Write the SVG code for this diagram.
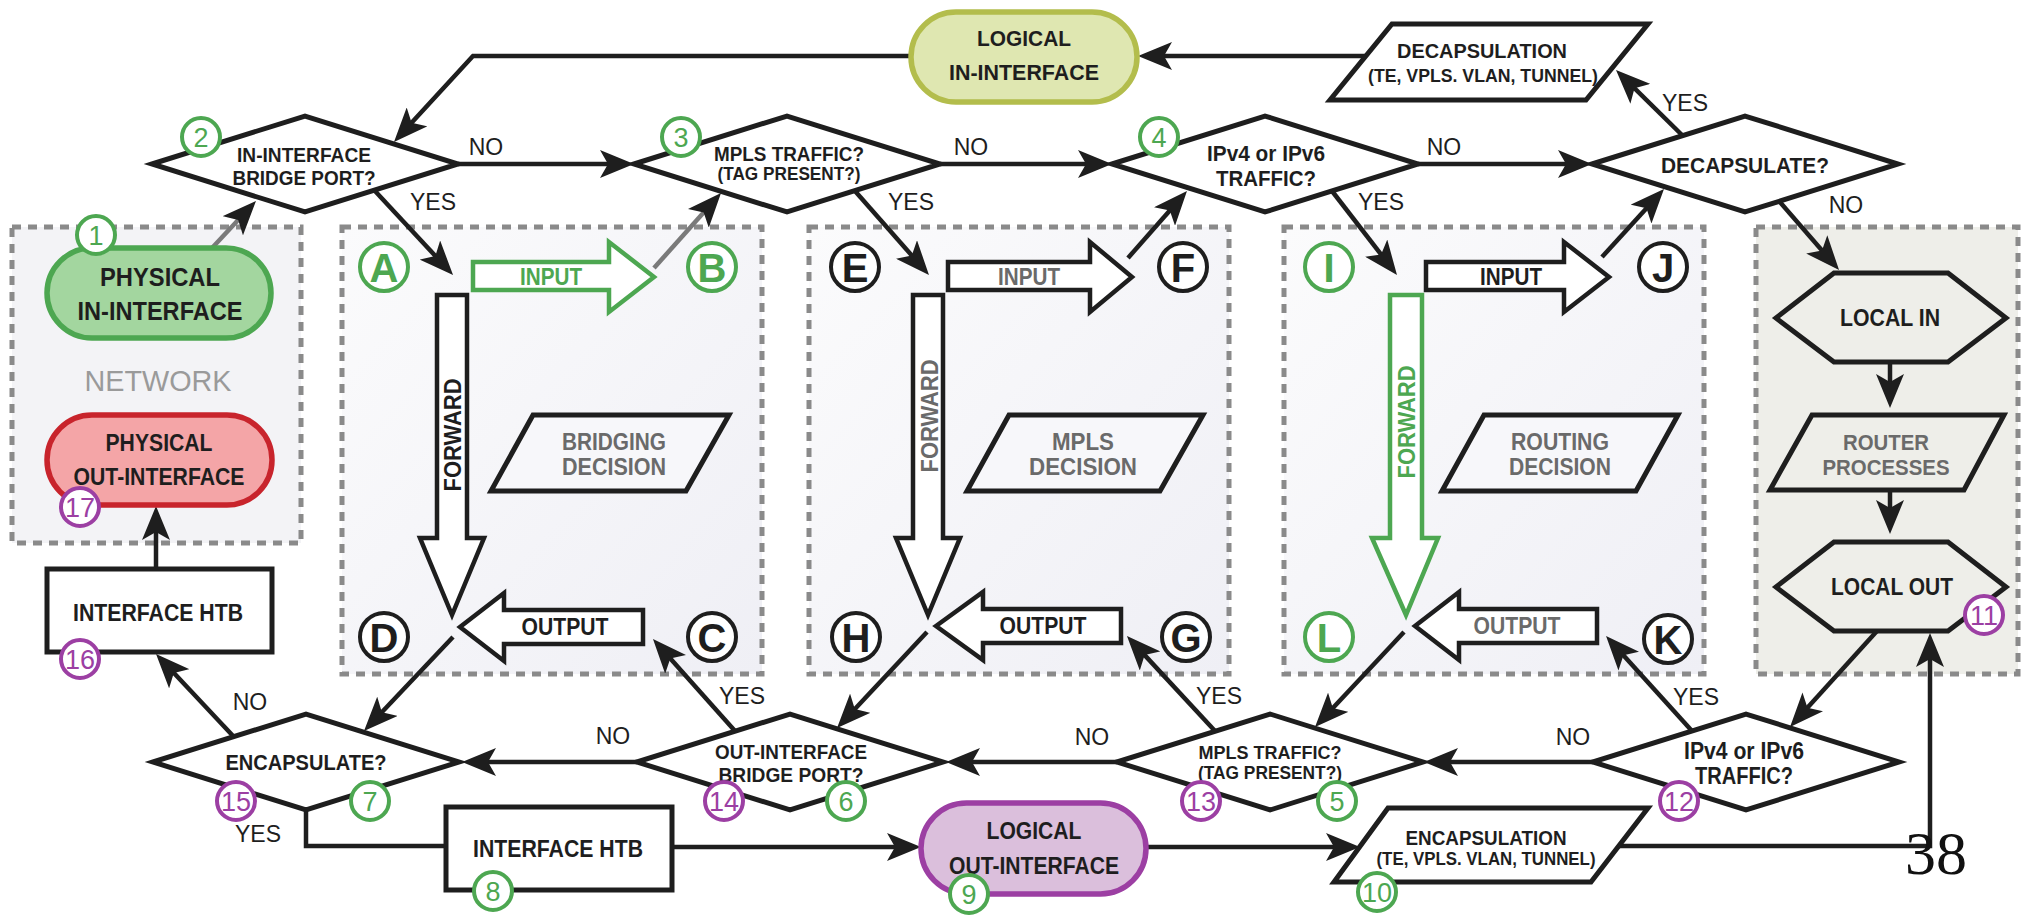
<svg xmlns="http://www.w3.org/2000/svg" width="2029" height="919" viewBox="0 0 2029 919">
<defs>
<marker id="ah" viewBox="0 0 34 28" refX="26" refY="14" markerWidth="34" markerHeight="28" markerUnits="userSpaceOnUse" orient="auto"><path d="M0,0 L34,14 L0,28 L8,14 Z" fill="#1e1e1e"/></marker>
<linearGradient id="bg" x1="0" y1="0" x2="1" y2="1"><stop offset="0" stop-color="#fbfbfc"/><stop offset="1" stop-color="#efeff5"/></linearGradient>
</defs>
<style>
text{font-family:"Liberation Sans",Arial,sans-serif;text-anchor:middle}
.b{font-weight:bold}
.k{fill:#1e1e1e}
.g{fill:#6a6a6a}
.gr{fill:#4da751}
.pu{fill:#9c3fa3}
.box{stroke:#8a8a8a;stroke-width:5;stroke-dasharray:9 7}
.sh{fill:#fff;stroke:#1e1e1e;stroke-width:5}
.dec{fill:#f7f7fa;stroke:#1e1e1e;stroke-width:5}
.loc{fill:#eeeee9;stroke:#1e1e1e;stroke-width:5}
.ba{fill:#fff;stroke:#1e1e1e;stroke-width:4.5}
.bag{fill:#fff;stroke:#4da751;stroke-width:4.5}
.con{fill:none;stroke:#1e1e1e;stroke-width:4.5}
.cong{fill:none;stroke:#7a7a7a;stroke-width:4.5}
.lab{font-size:23px;fill:#1e1e1e}
.cg{fill:#fff;stroke:#4da751;stroke-width:4}
.cp{fill:#fff;stroke:#9c3fa3;stroke-width:4}
.ck{fill:#fff;stroke:#1e1e1e;stroke-width:4}
.num{font-size:27px}
.let{font-size:40px;font-weight:bold}
</style>

<g id="areas">
<rect x="12" y="227" width="289" height="316" fill="#f3f3f6" class="box"/>
<rect x="342" y="227" width="420" height="447" fill="url(#bg)" class="box"/>
<rect x="809" y="227" width="420" height="447" fill="url(#bg)" class="box"/>
<rect x="1284" y="227" width="420" height="447" fill="url(#bg)" class="box"/>
<rect x="1756" y="227" width="262" height="447" fill="#eeeee9" class="box"/>
<text x="158" y="391" style="font-size:30px;fill:#9a9a9a" textLength="147" lengthAdjust="spacingAndGlyphs">NETWORK</text>
</g>

<g id="connectors">
<path class="con" d="M458,164 L626,164" marker-end="url(#ah)"/>
<path class="con" d="M940,164 L1104,164" marker-end="url(#ah)"/>
<path class="con" d="M1418,164 L1584,164" marker-end="url(#ah)"/>
<path class="con" d="M375,191 L447.6,269.1" marker-end="url(#ah)"/>
<path class="con" d="M855,191 L923.7,269" marker-end="url(#ah)"/>
<path class="con" d="M1332,191 L1392.1,268.7" marker-end="url(#ah)"/>
<path class="cong" d="M212,248 L250.5,206.8" marker-end="url(#ah)"/>
<path class="cong" d="M654,268 L715.7,199" marker-end="url(#ah)"/>
<path class="con" d="M1128,258 L1181.7,197" marker-end="url(#ah)"/>
<path class="con" d="M1602,257 L1658.6,194.9" marker-end="url(#ah)"/>
<path class="con" d="M1683,136 L1621.7,75.6" marker-end="url(#ah)"/>
<path class="con" d="M1779,201 L1833.8,264" marker-end="url(#ah)"/>
<path class="con" d="M1366,56 L1146,56" marker-end="url(#ah)"/>
<path class="con" d="M911,56 L473,56 L399.4,136.1" marker-end="url(#ah)"/>
<path class="con" d="M1890,362 L1890,400" marker-end="url(#ah)"/>
<path class="con" d="M1890,490 L1890,526" marker-end="url(#ah)"/>
<path class="con" d="M1877,631 L1795.4,721.1" marker-end="url(#ah)"/>
<path class="con" d="M1692,731 L1611.4,641.9" marker-end="url(#ah)"/>
<path class="con" d="M1593,762 L1432,762" marker-end="url(#ah)"/>
<path class="con" d="M1404,632 L1320.5,721.2" marker-end="url(#ah)"/>
<path class="con" d="M1215,731 L1132.4,641.9" marker-end="url(#ah)"/>
<path class="con" d="M1117,762 L954,762" marker-end="url(#ah)"/>
<path class="con" d="M927,632 L842.5,722.2" marker-end="url(#ah)"/>
<path class="con" d="M735,731 L658.3,645" marker-end="url(#ah)"/>
<path class="con" d="M637,762 L470,762" marker-end="url(#ah)"/>
<path class="con" d="M453,637 L369.5,725.2" marker-end="url(#ah)"/>
<path class="con" d="M234,737 L161.5,659.8" marker-end="url(#ah)"/>
<path class="con" d="M156,569 L156,514" marker-end="url(#ah)"/>
<path class="con" d="M306,810 L306,846 L446,846"/>
<path class="con" d="M672,847 L913,847" marker-end="url(#ah)"/>
<path class="con" d="M1146,847 L1352,847" marker-end="url(#ah)"/>
<path class="con" d="M1619,846 L1930,846 L1930,641" marker-end="url(#ah)"/>
<text class="lab" x="486" y="155">NO</text>
<text class="lab" x="433" y="210">YES</text>
<text class="lab" x="971" y="155">NO</text>
<text class="lab" x="911" y="210">YES</text>
<text class="lab" x="1444" y="155">NO</text>
<text class="lab" x="1381" y="210">YES</text>
<text class="lab" x="1685" y="111">YES</text>
<text class="lab" x="1846" y="213">NO</text>
<text class="lab" x="250" y="710">NO</text>
<text class="lab" x="258" y="842">YES</text>
<text class="lab" x="613" y="744">NO</text>
<text class="lab" x="742" y="704">YES</text>
<text class="lab" x="1092" y="745">NO</text>
<text class="lab" x="1219" y="704">YES</text>
<text class="lab" x="1573" y="745">NO</text>
<text class="lab" x="1696" y="705">YES</text>
</g>

<g id="logical-in">
<rect x="911" y="12" width="226" height="90" rx="45" fill="#dfe7b1" stroke="#b3bd4c" stroke-width="5.5"/>
<text class="b k" x="1024" y="46" style="font-size:22.5px" textLength="94" lengthAdjust="spacingAndGlyphs">LOGICAL</text>
<text class="b k" x="1024" y="80" style="font-size:22.5px" textLength="150" lengthAdjust="spacingAndGlyphs">IN-INTERFACE</text>
</g>
<g id="decapsulation">
<polygon class="sh" points="1392,24 1648,24 1586,100 1330,100"/>
<text class="b k" x="1482" y="57.5" style="font-size:21px" textLength="170" lengthAdjust="spacingAndGlyphs">DECAPSULATION</text>
<text class="b k" x="1483" y="81.5" style="font-size:18px" textLength="230" lengthAdjust="spacingAndGlyphs">(TE, VPLS. VLAN, TUNNEL)</text>
</g>
<g id="n2">
<polygon class="sh" points="152,164 305,116 458,164 305,212"/>
<text class="b k" x="304" y="161.5" style="font-size:21px" textLength="134" lengthAdjust="spacingAndGlyphs">IN-INTERFACE</text>
<text class="b k" x="304" y="184.5" style="font-size:21px" textLength="143" lengthAdjust="spacingAndGlyphs">BRIDGE PORT?</text>
</g>
<g id="n3">
<polygon class="sh" points="634,164 787,116 940,164 787,212"/>
<text class="b k" x="789" y="161" style="font-size:20px" textLength="150" lengthAdjust="spacingAndGlyphs">MPLS TRAFFIC?</text>
<text class="b k" x="789" y="179.5" style="font-size:17.5px" textLength="143" lengthAdjust="spacingAndGlyphs">(TAG PRESENT?)</text>
</g>
<g id="n4">
<polygon class="sh" points="1112,164 1265,116 1418,164 1265,212"/>
<text class="b k" x="1266" y="161" style="font-size:22px" textLength="118" lengthAdjust="spacingAndGlyphs">IPv4 or IPv6</text>
<text class="b k" x="1266" y="186" style="font-size:22px" textLength="100" lengthAdjust="spacingAndGlyphs">TRAFFIC?</text>
</g>
<g id="decapsulate">
<polygon class="sh" points="1592,164 1745,116 1898,164 1745,212"/>
<text class="b k" x="1745" y="173" style="font-size:22px" textLength="168" lengthAdjust="spacingAndGlyphs">DECAPSULATE?</text>
</g>
<g id="physical-in">
<rect x="47" y="248" width="224" height="90" rx="45" fill="#a3d69f" stroke="#4da751" stroke-width="5.5"/>
<text class="b k" x="160" y="286" style="font-size:25px" textLength="120" lengthAdjust="spacingAndGlyphs">PHYSICAL</text>
<text class="b k" x="160" y="320" style="font-size:25px" textLength="165" lengthAdjust="spacingAndGlyphs">IN-INTERFACE</text>
</g>
<g id="physical-out">
<rect x="47" y="415" width="225" height="90" rx="45" fill="#f4a5a7" stroke="#c8242c" stroke-width="5.5"/>
<text class="b k" x="159" y="451" style="font-size:23px" textLength="107" lengthAdjust="spacingAndGlyphs">PHYSICAL</text>
<text class="b k" x="159" y="485" style="font-size:23px" textLength="171" lengthAdjust="spacingAndGlyphs">OUT-INTERFACE</text>
</g>
<g id="htb16">
<rect class="sh" x="47" y="569" width="225" height="83"/>
<text class="b k" x="158" y="621" style="font-size:23px" textLength="170" lengthAdjust="spacingAndGlyphs">INTERFACE HTB</text>
</g>

<g id="forward-ad">
<polygon class="ba" points="437,295 467,295 467,538 484,538 452,615 420,538 437,538"/>
<text class="b k" transform="translate(452,435) rotate(-90)" x="0" y="9" style="font-size:24px" textLength="113" lengthAdjust="spacingAndGlyphs">FORWARD</text>
</g>
<g id="input-ab">
<polygon class="bag" points="473,262 609,262 609,242 654,277 609,312 609,290 473,290"/>
<text class="b gr" x="551" y="285" style="font-size:23px" textLength="62" lengthAdjust="spacingAndGlyphs">INPUT</text>
</g>
<g id="output-cd">
<polygon class="ba" points="460,627 504,593 504,610 643,610 643,644 504,644 504,661"/>
<text class="b k" x="565" y="635" style="font-size:23px" textLength="87" lengthAdjust="spacingAndGlyphs">OUTPUT</text>
</g>
<g id="bridging">
<polygon class="dec" points="533,415 729,415 686,491 491,491"/>
<text class="b g" x="614" y="450" style="font-size:23px" textLength="104" lengthAdjust="spacingAndGlyphs">BRIDGING</text>
<text class="b g" x="614" y="475" style="font-size:23px" textLength="104" lengthAdjust="spacingAndGlyphs">DECISION</text>
</g>

<g id="forward-eh">
<polygon class="ba" points="913,295 943,295 943,538 960,538 928,615 896,538 913,538"/>
<text class="b g" transform="translate(929,416) rotate(-90)" x="0" y="9" style="font-size:24px" textLength="113" lengthAdjust="spacingAndGlyphs">FORWARD</text>
</g>
<g id="input-ef">
<polygon class="ba" points="948,262 1090,262 1090,242 1132,277 1090,312 1090,290 948,290"/>
<text class="b g" x="1029" y="285" style="font-size:23px" textLength="62" lengthAdjust="spacingAndGlyphs">INPUT</text>
</g>
<g id="output-gh">
<polygon class="ba" points="936,626 983,592 983,609 1121,609 1121,643 983,643 983,660"/>
<text class="b k" x="1043" y="634" style="font-size:23px" textLength="87" lengthAdjust="spacingAndGlyphs">OUTPUT</text>
</g>
<g id="mpls-decision">
<polygon class="dec" points="1009,415 1203,415 1160,491 967,491"/>
<text class="b g" x="1083" y="450" style="font-size:23px" textLength="62" lengthAdjust="spacingAndGlyphs">MPLS</text>
<text class="b g" x="1083" y="475" style="font-size:23px" textLength="108" lengthAdjust="spacingAndGlyphs">DECISION</text>
</g>

<g id="forward-il">
<polygon class="bag" points="1390,295 1422,295 1422,538 1438,538 1406,615 1372,538 1390,538"/>
<text class="b gr" transform="translate(1406,422) rotate(-90)" x="0" y="9" style="font-size:24px" textLength="113" lengthAdjust="spacingAndGlyphs">FORWARD</text>
</g>
<g id="input-ij">
<polygon class="ba" points="1426,262 1564,262 1564,242 1609,277 1564,312 1564,290 1426,290"/>
<text class="b k" x="1511" y="285" style="font-size:23px" textLength="62" lengthAdjust="spacingAndGlyphs">INPUT</text>
</g>
<g id="output-kl">
<polygon class="ba" points="1415,626 1459,592 1459,609 1597,609 1597,643 1459,643 1459,660"/>
<text class="b g" x="1517" y="634" style="font-size:23px" textLength="87" lengthAdjust="spacingAndGlyphs">OUTPUT</text>
</g>
<g id="routing">
<polygon class="dec" points="1484,415 1678,415 1636,491 1442,491"/>
<text class="b g" x="1560" y="450" style="font-size:23px" textLength="98" lengthAdjust="spacingAndGlyphs">ROUTING</text>
<text class="b g" x="1560" y="475" style="font-size:23px" textLength="102" lengthAdjust="spacingAndGlyphs">DECISION</text>
</g>

<g id="local-in">
<polygon class="loc" points="1776,318 1834,273 1948,273 2006,318 1948,362 1834,362"/>
<text class="b k" x="1890" y="326" style="font-size:23px" textLength="100" lengthAdjust="spacingAndGlyphs">LOCAL IN</text>
</g>
<g id="router-processes">
<polygon class="loc" points="1812,415 2004,415 1964,490 1770,490"/>
<text class="b g" x="1886" y="450" style="font-size:22.5px" textLength="86" lengthAdjust="spacingAndGlyphs">ROUTER</text>
<text class="b g" x="1886" y="475" style="font-size:22.5px" textLength="127" lengthAdjust="spacingAndGlyphs">PROCESSES</text>
</g>
<g id="local-out">
<polygon class="loc" points="1776,587 1834,542 1948,542 2006,587 1948,631 1834,631"/>
<text class="b k" x="1892" y="595" style="font-size:23px" textLength="122" lengthAdjust="spacingAndGlyphs">LOCAL OUT</text>
</g>

<g id="encapsulate">
<polygon class="sh" points="153,762 306,714 459,762 306,810"/>
<text class="b k" x="306" y="770" style="font-size:22px" textLength="161" lengthAdjust="spacingAndGlyphs">ENCAPSULATE?</text>
</g>
<g id="out-bridge">
<polygon class="sh" points="637,762 790,714 943,762 790,810"/>
<text class="b k" x="791" y="758.5" style="font-size:20.5px" textLength="152" lengthAdjust="spacingAndGlyphs">OUT-INTERFACE</text>
<text class="b k" x="791" y="781.5" style="font-size:20.5px" textLength="145" lengthAdjust="spacingAndGlyphs">BRIDGE PORT?</text>
</g>
<g id="mpls-out">
<polygon class="sh" points="1117,762 1270,714 1423,762 1270,810"/>
<text class="b k" x="1270" y="759" style="font-size:19px" textLength="143" lengthAdjust="spacingAndGlyphs">MPLS TRAFFIC?</text>
<text class="b k" x="1270" y="778.5" style="font-size:17.5px" textLength="144" lengthAdjust="spacingAndGlyphs">(TAG PRESENT?)</text>
</g>
<g id="ip-out">
<polygon class="sh" points="1593,762 1746,714 1899,762 1746,810"/>
<text class="b k" x="1744" y="759" style="font-size:23px" textLength="120" lengthAdjust="spacingAndGlyphs">IPv4 or IPv6</text>
<text class="b k" x="1744" y="784" style="font-size:23px" textLength="98" lengthAdjust="spacingAndGlyphs">TRAFFIC?</text>
</g>
<g id="htb8">
<rect class="sh" x="446" y="807" width="226" height="83"/>
<text class="b k" x="558" y="857" style="font-size:23px" textLength="170" lengthAdjust="spacingAndGlyphs">INTERFACE HTB</text>
</g>
<g id="logical-out">
<rect x="921" y="803" width="225" height="91" rx="45.5" fill="#dbbfdc" stroke="#9c3fa3" stroke-width="5.5"/>
<text class="b k" x="1034" y="839" style="font-size:23px" textLength="95" lengthAdjust="spacingAndGlyphs">LOGICAL</text>
<text class="b k" x="1034" y="874" style="font-size:23px" textLength="170" lengthAdjust="spacingAndGlyphs">OUT-INTERFACE</text>
</g>
<g id="encapsulation">
<polygon class="sh" points="1388,808 1648,808 1591,882 1334,882"/>
<text class="b k" x="1486" y="844.5" style="font-size:20.5px" textLength="161" lengthAdjust="spacingAndGlyphs">ENCAPSULATION</text>
<text class="b k" x="1486" y="864.5" style="font-size:17.5px" textLength="219" lengthAdjust="spacingAndGlyphs">(TE, VPLS. VLAN, TUNNEL)</text>
</g>

<g id="letters">
<circle class="cg" cx="384" cy="267" r="24"/><text class="let gr" x="384" y="281.5">A</text>
<circle class="cg" cx="712" cy="267" r="24"/><text class="let gr" x="712" y="281.5">B</text>
<circle class="ck" cx="712" cy="637" r="24"/><text class="let k" x="712" y="651.5">C</text>
<circle class="ck" cx="384" cy="637" r="24"/><text class="let k" x="384" y="651.5">D</text>
<circle class="ck" cx="855" cy="267" r="24"/><text class="let k" x="855" y="281.5">E</text>
<circle class="ck" cx="1183" cy="267" r="24"/><text class="let k" x="1183" y="281.5">F</text>
<circle class="ck" cx="1186" cy="637" r="24"/><text class="let k" x="1186" y="651.5">G</text>
<circle class="ck" cx="856" cy="637" r="24"/><text class="let k" x="856" y="651.5">H</text>
<circle class="cg" cx="1329" cy="267" r="24"/><text class="let gr" x="1329" y="281.5">I</text>
<circle class="ck" cx="1663" cy="267" r="24"/><text class="let k" x="1663" y="281.5">J</text>
<circle class="ck" cx="1668" cy="639" r="24"/><text class="let k" x="1668" y="653.5">K</text>
<circle class="cg" cx="1329" cy="637" r="24"/><text class="let gr" x="1329" y="651.5">L</text>
</g>

<g id="numbers">
<circle class="cg" cx="96" cy="235" r="19"/><text class="num gr" x="96" y="245">1</text>
<circle class="cg" cx="201" cy="137" r="19"/><text class="num gr" x="201" y="147">2</text>
<circle class="cg" cx="681" cy="137" r="19"/><text class="num gr" x="681" y="147">3</text>
<circle class="cg" cx="1159" cy="137" r="19"/><text class="num gr" x="1159" y="147">4</text>
<circle class="cg" cx="1337" cy="801" r="19"/><text class="num gr" x="1337" y="811">5</text>
<circle class="cg" cx="846" cy="801" r="19"/><text class="num gr" x="846" y="811">6</text>
<circle class="cg" cx="370" cy="801" r="19"/><text class="num gr" x="370" y="811">7</text>
<circle class="cg" cx="493" cy="891" r="19"/><text class="num gr" x="493" y="901">8</text>
<circle class="cg" cx="969" cy="894" r="19"/><text class="num gr" x="969" y="904">9</text>
<circle class="cg" cx="1377" cy="892" r="19"/><text class="num gr" x="1377" y="902">10</text>
<circle class="cp" cx="1984" cy="615" r="19"/><text class="num pu" x="1984" y="625">11</text>
<circle class="cp" cx="1679" cy="801" r="19"/><text class="num pu" x="1679" y="811">12</text>
<circle class="cp" cx="1201" cy="801" r="19"/><text class="num pu" x="1201" y="811">13</text>
<circle class="cp" cx="724" cy="801" r="19"/><text class="num pu" x="724" y="811">14</text>
<circle class="cp" cx="236" cy="801" r="19"/><text class="num pu" x="236" y="811">15</text>
<circle class="cp" cx="80" cy="659" r="19"/><text class="num pu" x="80" y="669">16</text>
<circle class="cp" cx="80" cy="507" r="19"/><text class="num pu" x="80" y="517">17</text>
</g>

<text x="1905" y="874" style="font-family:'Liberation Serif','Times New Roman',serif;font-size:62px;text-anchor:start;fill:#111">38</text>
</svg>
